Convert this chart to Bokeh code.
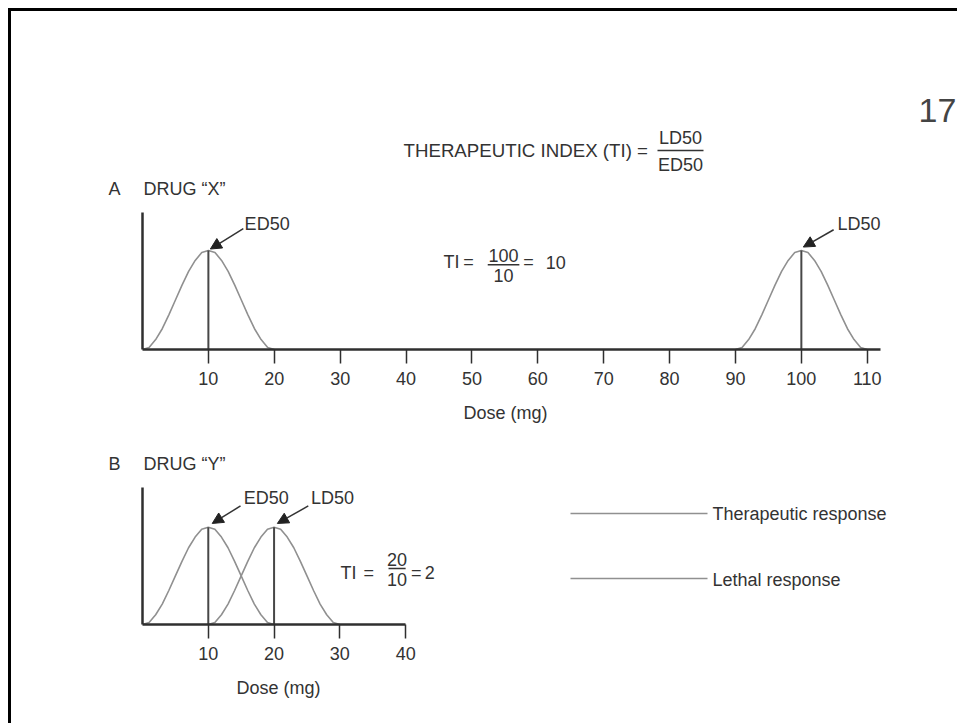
from bokeh.plotting import figure
from bokeh.models import Range1d, Label, Arrow, NormalHead, FixedTicker
from bokeh.layouts import column, row
from bokeh.embed import file_html
from bokeh.resources import INLINE

# ---------------- data ----------------
bell_response = [0.00, 0.02, 0.10, 0.21, 0.35, 0.50, 0.65, 0.79, 0.90, 0.98, 1.00,
                 0.98, 0.90, 0.79, 0.65, 0.50, 0.35, 0.21, 0.10, 0.02, 0.00]
drug_x_ed_dose = [0, 1, 2, 3, 4, 5, 6, 7, 8, 9, 10, 11, 12, 13, 14, 15, 16, 17, 18, 19, 20]
drug_x_ld_dose = [90, 91, 92, 93, 94, 95, 96, 97, 98, 99, 100, 101, 102, 103, 104, 105, 106, 107, 108, 109, 110]
drug_y_ed_dose = [0, 1, 2, 3, 4, 5, 6, 7, 8, 9, 10, 11, 12, 13, 14, 15, 16, 17, 18, 19, 20]
drug_y_ld_dose = [10, 11, 12, 13, 14, 15, 16, 17, 18, 19, 20, 21, 22, 23, 24, 25, 26, 27, 28, 29, 30]
drug_x_ed50 = 10
drug_x_ld50 = 100
drug_y_ed50 = 10
drug_y_ld50 = 20
ticks_a = [10, 20, 30, 40, 50, 60, 70, 80, 90, 100, 110]
ticks_b = [10, 20, 30, 40]
axis_extent_a = 112
axis_extent_b = 40
x_axis_title = "Dose (mg)"
legend_labels = ["Therapeutic response", "Lethal response"]

# ---------------- styles ----------------
FONT = "Liberation Sans"
FS = "18px"
TXT = "#333333"
AX = "#2f2f2f"
CURVE = "#909090"
VLINE = "#474747"


def lab(p, x, y, text, align="left", size=FS, color=TXT):
    p.add_layout(Label(x=x, y=y, text=text, text_align=align, text_baseline="middle",
                       text_font=FONT, text_font_size=size, text_color=color))


def canvas_fig(w, h, x0, y0):
    # a text strip whose ranges are the page pixel coordinates
    p = figure(width=w, height=h, x_range=Range1d(x0, x0 + w), y_range=Range1d(y0 + h, y0),
               output_backend="svg", toolbar_location=None,
               x_axis_location=None, y_axis_location=None, min_border=0,
               frame_align=False)
    p.outline_line_color = None
    p.background_fill_color = "white"
    p.border_fill_color = "white"
    for g in p.grid:
        g.visible = False
    return p


def panel_fig(w, h, xr, yr, ml, mr, mt, mb, ticks, extent):
    p = figure(width=w, height=h, x_range=Range1d(0, xr), y_range=Range1d(0, yr),
               output_backend="svg", toolbar_location=None, frame_align=False,
               min_border_left=ml, min_border_right=mr, min_border_top=mt, min_border_bottom=mb)
    p.outline_line_color = None
    p.xgrid.visible = False
    p.ygrid.visible = False
    p.xaxis.bounds = (0, extent)
    p.xaxis.ticker = FixedTicker(ticks=ticks)
    p.xaxis.major_tick_in = 0
    p.xaxis.major_tick_out = 14
    p.xaxis.minor_tick_in = 0
    p.xaxis.minor_tick_out = 0
    p.xaxis.major_tick_line_color = AX
    p.xaxis.major_tick_line_width = 1.5
    p.xaxis.axis_line_color = AX
    p.xaxis.axis_line_width = 2.5
    p.xaxis.major_label_standoff = 8
    p.xaxis.major_label_text_font = FONT
    p.xaxis.major_label_text_font_size = FS
    p.xaxis.major_label_text_color = TXT
    p.yaxis.ticker = FixedTicker(ticks=[])
    p.yaxis.major_tick_out = 0
    p.yaxis.major_tick_in = 0
    p.yaxis.minor_tick_out = 0
    p.yaxis.minor_tick_in = 0
    p.yaxis.major_label_text_font_size = "0px"
    p.yaxis.axis_line_color = AX
    p.yaxis.axis_line_width = 2.5
    return p


def arrow(p, xs, ys, xe, ye):
    p.add_layout(Arrow(end=NormalHead(size=11, fill_color="#222222", line_color="#222222"),
                       x_start=xs, y_start=ys, x_end=xe, y_end=ye,
                       line_color="#333333", line_width=1.5))


# ---------------- header (page pixel coordinates) ----------------
top = canvas_fig(946, 189, 11, 11)
lab(top, 918, 110, "17", size="34px", color="#444444")
lab(top, 403, 150, "THERAPEUTIC INDEX (TI) =", size="18.7px")
lab(top, 680, 137, "LD50", align="center")
lab(top, 680, 164, "ED50", align="center")
top.segment(x0=[657], y0=[150], x1=[703], y1=[150], line_color=TXT, line_width=1.5)
lab(top, 108, 188, "A")
lab(top, 143, 188, "DRUG \u201cX\u201d")

# ---------------- panel A ----------------
pa = panel_fig(946, 199, 123.7, 1.384, 131, 0, 12, 50, ticks_a, axis_extent_a)
pa.line(drug_x_ed_dose, bell_response, line_color=CURVE, line_width=1.6)
pa.line(drug_x_ld_dose, bell_response, line_color=CURVE, line_width=1.6)
peak = max(bell_response)
pa.segment(x0=[drug_x_ed50, drug_x_ld50], y0=[0, 0], x1=[drug_x_ed50, drug_x_ld50], y1=[peak, peak],
           line_color=VLINE, line_width=2)
lab(pa, 15.5, 1.27, "ED50")
arrow(pa, 15.3, 1.22, 10.3, 1.015)
lab(pa, 105.5, 1.27, "LD50")
arrow(pa, 104.9, 1.21, 100.3, 1.035)
ti_x = drug_x_ld50 // drug_x_ed50
lab(pa, 45.7, 0.88, "TI")
lab(pa, 48.7, 0.88, "=")
lab(pa, 54.8, 0.945, f"{drug_x_ld50}", align="center")
lab(pa, 54.8, 0.745, f"{drug_x_ed50}", align="center")
pa.segment(x0=[52.4], y0=[0.855], x1=[57.2], y1=[0.855], line_color=TXT, line_width=1.5)
lab(pa, 57.8, 0.88, "=")
lab(pa, 61.2, 0.88, f"{ti_x}")

# ---------------- strip between the panels ----------------
mid = canvas_fig(946, 81, 11, 399)
lab(mid, 505, 412, x_axis_title, align="center")
lab(mid, 108, 463, "B")
lab(mid, 143, 463, "DRUG \u201cY\u201d")

# ---------------- panel B ----------------
pb = panel_fig(529, 194, 60.5, 1.41, 131, 0, 7, 50, ticks_b, axis_extent_b)
pb.line(drug_y_ed_dose, bell_response, line_color=CURVE, line_width=1.6)
pb.line(drug_y_ld_dose, bell_response, line_color=CURVE, line_width=1.6)
pb.segment(x0=[drug_y_ed50, drug_y_ld50], y0=[0, 0], x1=[drug_y_ed50, drug_y_ld50], y1=[peak, peak],
           line_color=VLINE, line_width=2)
lab(pb, 15.4, 1.30, "ED50")
arrow(pb, 14.9, 1.22, 10.6, 1.04)
lab(pb, 25.6, 1.30, "LD50")
arrow(pb, 25.2, 1.22, 20.5, 1.04)
ti_y = drug_y_ld50 // drug_y_ed50
lab(pb, 30.1, 0.535, "TI")
lab(pb, 33.6, 0.535, "=")
lab(pb, 38.7, 0.67, f"{drug_y_ld50}", align="center")
lab(pb, 38.7, 0.468, f"{drug_y_ed50}", align="center")
pb.segment(x0=[37.4], y0=[0.576], x1=[40.0], y1=[0.576], line_color=TXT, line_width=1.5)
lab(pb, 40.8, 0.535, "=")
lab(pb, 42.9, 0.535, f"{ti_y}")

# x title strip under panel B
bstrip = canvas_fig(529, 49, 11, 674)
lab(bstrip, 278, 687, x_axis_title, align="center")

# ---------------- legend ----------------
leg = canvas_fig(417, 243, 540, 480)
leg.segment(x0=[570, 570], y0=[513, 578], x1=[707, 707], y1=[513, 578], line_color=CURVE, line_width=1.6)
lab(leg, 712, 513, legend_labels[0])
lab(leg, 712, 579, legend_labels[1])

layout = column(top, pa, mid, row(column(pb, bstrip, spacing=0), leg, spacing=0),
                spacing=0, margin=(8, 0, 0, 8),
                styles={"border-top": "3px solid black", "border-left": "3px solid black"})

open("out.html", "w").write(file_html(layout, INLINE))
